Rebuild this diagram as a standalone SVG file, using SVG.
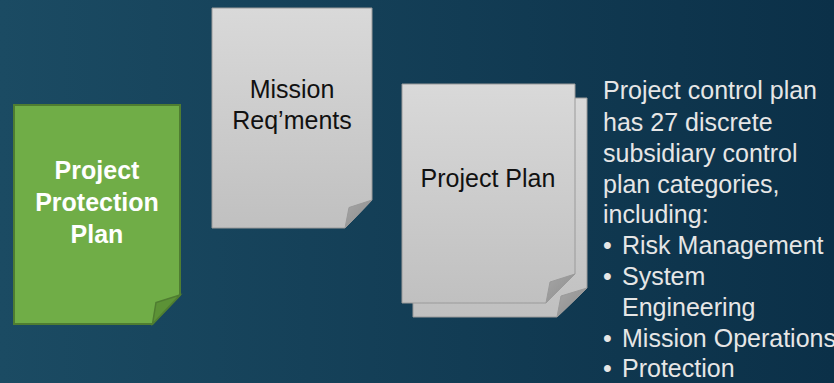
<svg xmlns="http://www.w3.org/2000/svg" width="834" height="383" viewBox="0 0 834 383">
  <defs>
    <linearGradient id="bg" x1="0" y1="0" x2="1" y2="0">
      <stop offset="0" stop-color="#1b4b63"/>
      <stop offset="1" stop-color="#0b3048"/>
    </linearGradient>
    <linearGradient id="paper" x1="0" y1="0" x2="0" y2="1">
      <stop offset="0" stop-color="#d9d9d9"/>
      <stop offset="1" stop-color="#c0c0c0"/>
    </linearGradient>
    <linearGradient id="foldGray" x1="0" y1="0" x2="1" y2="1">
      <stop offset="0" stop-color="#a6a6a6"/>
      <stop offset="1" stop-color="#8c8c8c"/>
    </linearGradient>
  </defs>
  <style>
    .doc { fill: url(#paper); stroke: #9a9a9a; stroke-width: 1; }
    .fold { fill: url(#foldGray); stroke: #9a9a9a; stroke-width: 1; }
    .green { fill: #70ad47; stroke: #4f7d31; stroke-width: 2; }
    .greenfold { fill: #5c9236; stroke: #4f7d31; stroke-width: 1.5; }
    .dark { font-family: "Liberation Sans", Arial, sans-serif; font-size: 25px; fill: #111111; text-anchor: middle; }
    .bold { font-family: "Liberation Sans", Arial, sans-serif; font-size: 25px; font-weight: bold; fill: #ffffff; text-anchor: middle; }
    .note { font-family: "Liberation Sans", Arial, sans-serif; font-size: 25px; fill: #e6e6e6; }
  </style>

  <rect x="0" y="0" width="834" height="383" fill="url(#bg)"/>

  <!-- Project Protection Plan (green page with folded corner) -->
  <g id="protection-plan">
    <path class="green" d="M14,105 H180 V295 L152.5,324 H14 Z"/>
    <path class="greenfold" d="M180,295 L156,302.5 L152.5,324 Z"/>
    <text class="bold" x="97" y="179">Project</text>
    <text class="bold" x="97" y="211">Protection</text>
    <text class="bold" x="97" y="243">Plan</text>
  </g>

  <!-- Mission requirements page -->
  <g id="mission-reqs">
    <path class="doc" d="M212,8 H372 V200 L345,228 H212 Z"/>
    <path class="fold" d="M372,200 L349,207.5 L345,228 Z"/>
    <text class="dark" x="292" y="98">Mission</text>
    <text class="dark" x="292" y="129">Req’ments</text>
  </g>

  <!-- Project plan: stacked pages -->
  <g id="project-plan">
    <path class="doc" d="M413,98 H587 V288 L557,317 H413 Z"/>
    <path class="fold" d="M587,288 L561,296 L557,317 Z"/>
    <path class="doc" d="M402,84 H575 V274 L546,303 H402 Z"/>
    <path class="fold" d="M575,274 L550,282 L546,303 Z"/>
    <text class="dark" x="488" y="187">Project Plan</text>
  </g>

  <!-- Description of subsidiary plans -->
  <g id="plan-notes">
    <text class="note" x="603" y="99">Project control plan</text>
    <text class="note" x="603" y="131">has 27 discrete</text>
    <text class="note" x="603" y="162">subsidiary control</text>
    <text class="note" x="603" y="193">plan categories,</text>
    <text class="note" x="603" y="223">including:</text>
    <text class="note" x="603" y="254">•</text>
    <text class="note" x="622" y="254">Risk Management</text>
    <text class="note" x="603" y="285">•</text>
    <text class="note" x="622" y="285">System</text>
    <text class="note" x="622" y="316">Engineering</text>
    <text class="note" x="603" y="347">•</text>
    <text class="note" x="622" y="347">Mission Operations</text>
    <text class="note" x="603" y="377">•</text>
    <text class="note" x="622" y="377">Protection</text>
  </g>
</svg>
